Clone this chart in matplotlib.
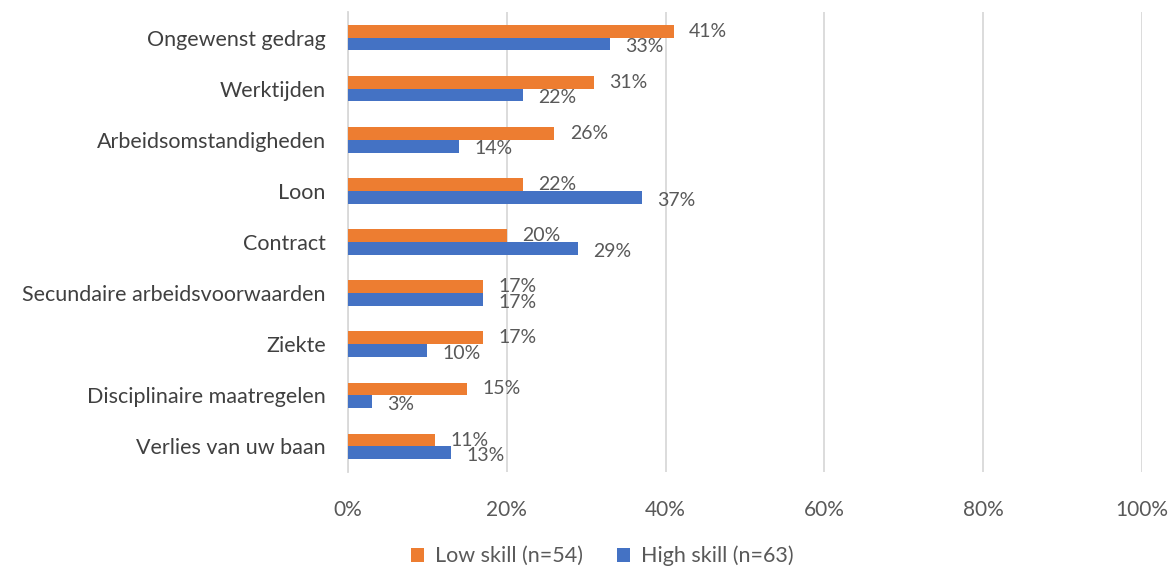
import matplotlib.pyplot as plt
import numpy as np

plt.rcParams['font.family'] = ['Lato', 'DejaVu Sans']

categories = ["Ongewenst gedrag", "Werktijden", "Arbeidsomstandigheden", "Loon",
              "Contract", "Secundaire arbeidsvoorwaarden", "Ziekte",
              "Disciplinaire maatregelen", "Verlies van uw baan"]
low_skill = [41, 31, 26, 22, 20, 17, 17, 15, 11]
high_skill = [33, 22, 14, 37, 29, 17, 10, 3, 13]
series_names = ["Low skill (n=54)", "High skill (n=63)"]
xticks = [0, 20, 40, 60, 80, 100]

orange = "#ED7D31"
blue = "#4472C4"
text_col = "#595959"

fig = plt.figure(figsize=(11.76, 5.70), dpi=100)
ax = fig.add_axes([348 / 1176, 1 - 472 / 570, 794 / 1176, 460 / 570])

y = np.arange(len(categories))
h = 0.25
ax.barh(y - h / 2, low_skill, height=h, color=orange, label=series_names[0], zorder=3)
ax.barh(y + h / 2, high_skill, height=h, color=blue, label=series_names[1], zorder=3)

# value labels just past the bar ends
for i in range(len(categories)):
    ax.annotate(f"{low_skill[i]}%", (low_skill[i], y[i] - h / 2), xytext=(11, 0),
                textcoords="offset points", va="center", ha="left",
                fontsize=14, color=text_col)
    ax.annotate(f"{high_skill[i]}%", (high_skill[i], y[i] + h / 2), xytext=(11, -2),
                textcoords="offset points", va="center", ha="left",
                fontsize=14, color=text_col)

ax.set_ylim(len(categories) - 0.5, -0.5)
ax.set_xlim(0, 100)
ax.set_yticks(y)
ax.set_yticklabels(categories, fontsize=15.5, color="#404040")
ax.set_xticks(xticks)
ax.set_xticklabels([f"{t}%" for t in xticks], fontsize=15, color=text_col)
ax.tick_params(axis="both", length=0)
ax.tick_params(axis="x", pad=20)
ax.tick_params(axis="y", pad=16)
ax.grid(axis="x", color="#d9d9d9", linewidth=1.3, zorder=0)
for s in ["top", "right", "bottom"]:
    ax.spines[s].set_visible(False)
ax.spines["left"].set_color("#d9d9d9")
ax.spines["left"].set_linewidth(1.3)

leg = fig.legend(loc="center", bbox_to_anchor=(0.512, 1 - 556 / 570), ncol=2,
                 frameon=False, fontsize=15.5, handlelength=0.6, handleheight=0.6,
                 columnspacing=1.6, handletextpad=0.5)
for t in leg.get_texts():
    t.set_color(text_col)

fig.savefig("out.png", dpi=100)
